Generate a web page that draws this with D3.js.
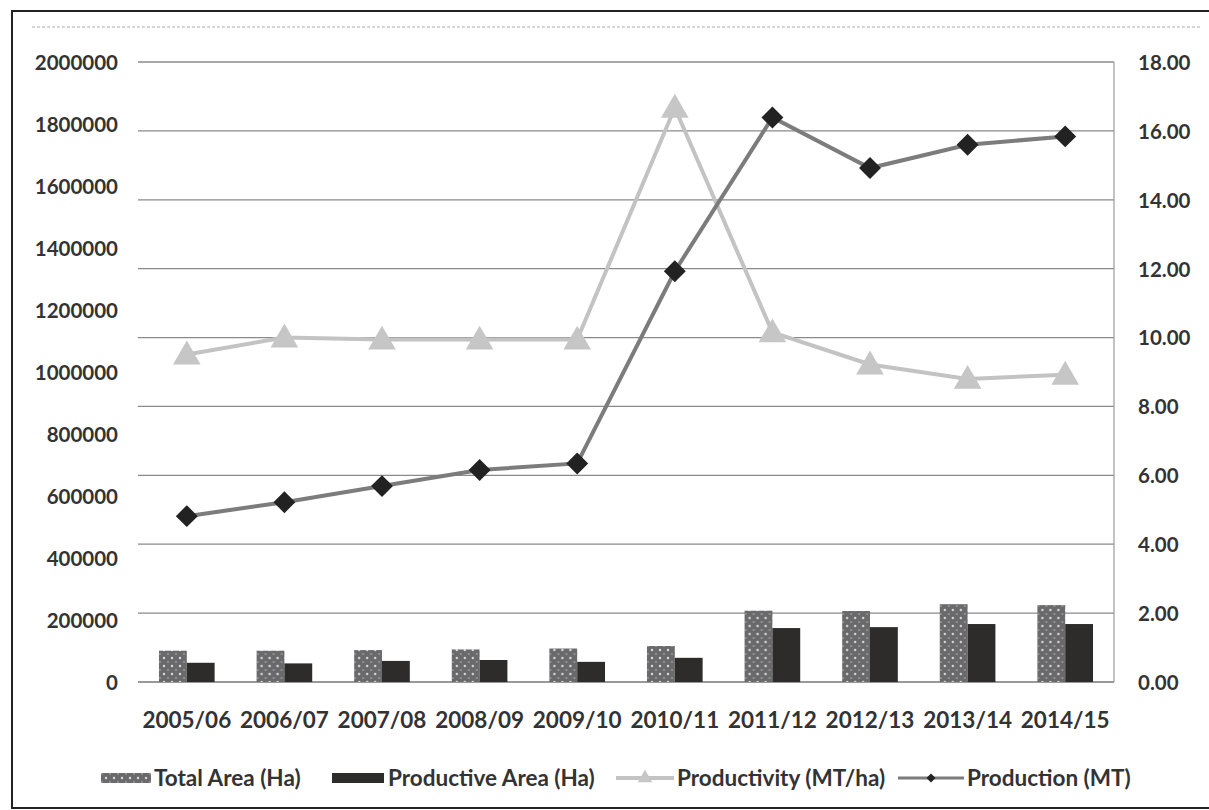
<!DOCTYPE html>
<html>
<head>
<meta charset="utf-8">
<script src="https://cdn.jsdelivr.net/npm/d3@7"></script>
<style>
  html, body { margin: 0; padding: 0; background: #fff; }
  svg { display: block; }
  text { font-family: Lato, "Open Sans", sans-serif; font-weight: 700; fill: #333; }
</style>
</head>
<body>
<svg id="chart" width="1209" height="810"></svg>
<script>
// Seasons on the category axis
const categories = ["2005/06", "2006/07", "2007/08", "2008/09", "2009/10",
                    "2010/11", "2011/12", "2012/13", "2013/14", "2014/15"];
// Bars, left axis (hectares)
const totalArea      = [101000, 101000, 103000, 105000, 108000, 116000, 230000, 229000, 251000, 248000];
const productiveArea = [ 62000,  60000,  68000,  71000,  65000,  78000, 174000, 177000, 187000, 187000];
// Lines
const production     = [535000, 580000, 632000, 684000, 705000, 1325000, 1821000, 1658000, 1733000, 1760000]; // left axis
const productivity   = [9.51, 10.0, 9.94, 9.94, 9.94, 16.67, 10.15, 9.22, 8.80, 8.92];                       // right axis
// Axis ticks
const leftTicks  = [0, 200000, 400000, 600000, 800000, 1000000, 1200000, 1400000, 1600000, 1800000, 2000000];
const rightTicks = [0, 2, 4, 6, 8, 10, 12, 14, 16, 18];
const barSeries  = ["Total Area (Ha)", "Productive Area (Ha)"];
const lineSeries = ["Productivity (MT/ha)", "Production (MT)"];

const svg = d3.select("#chart");
const plot = { left: 138, right: 1114, top: 62, bottom: 682 };

const x = d3.scaleBand().domain(categories).range([plot.left, plot.right]).padding(0);
const xSub = d3.scaleBand().domain(barSeries)
  .range([x.bandwidth() * 0.215, x.bandwidth() * 0.785]).padding(0);
const yL = d3.scaleLinear().domain([0, 2000000]).range([plot.bottom, plot.top]);
const yR = d3.scaleLinear().domain([0, 18]).range([plot.bottom, plot.top]);

// Dotted fill for the total-area bars
const defs = svg.append("defs");
const pat = defs.append("pattern").attr("id", "dots")
  .attr("width", 8).attr("height", 8).attr("patternUnits", "userSpaceOnUse");
pat.append("rect").attr("width", 8).attr("height", 8).attr("fill", "#6a6a6c");
pat.append("circle").attr("cx", 2).attr("cy", 2).attr("r", 1.2).attr("fill", "#d8d8d8");
pat.append("circle").attr("cx", 6).attr("cy", 6).attr("r", 1.0).attr("fill", "#9a9a9a");

// Outer frame
svg.append("rect").attr("x", 12).attr("y", 11).attr("width", 1210).attr("height", 797)
  .attr("fill", "none").attr("stroke", "#222").attr("stroke-width", 2);
svg.append("line").attr("x1", 32).attr("x2", 1200).attr("y1", 27).attr("y2", 27)
  .attr("stroke", "#c8c8c8").attr("stroke-width", 1.5).attr("stroke-dasharray", "3,2");

// Gridlines follow the right-axis ticks
svg.append("g").selectAll("line").data(rightTicks).join("line")
  .attr("x1", plot.left).attr("x2", plot.right)
  .attr("y1", d => yR(d)).attr("y2", d => yR(d))
  .attr("stroke", d => d === 0 ? "#777" : "#8a8a8a").attr("stroke-width", 1.3);
svg.append("line").attr("x1", plot.right).attr("x2", plot.right)
  .attr("y1", plot.top).attr("y2", plot.bottom).attr("stroke", "#9a9a9a").attr("stroke-width", 1.2);

// Left axis
const axL = svg.append("g").attr("transform", `translate(${plot.left - 20},0)`)
  .call(d3.axisLeft(yL).tickValues(leftTicks).tickFormat(d3.format("d")).tickSize(0).tickPadding(0));
axL.select(".domain").remove();
axL.selectAll("text").attr("font-size", 20.5).attr("dy", "0.36em");

// Right axis
const axR = svg.append("g").attr("transform", `translate(${plot.right + 24},0)`)
  .call(d3.axisRight(yR).tickValues(rightTicks).tickFormat(d3.format(".2f")).tickSize(0).tickPadding(0));
axR.select(".domain").remove();
axR.selectAll("text").attr("font-size", 20.5).attr("dy", "0.36em");

// Category axis
const axB = svg.append("g").attr("transform", `translate(0,${plot.bottom + 30})`)
  .call(d3.axisBottom(x).tickSize(0).tickPadding(0));
axB.select(".domain").remove();
axB.selectAll("text").attr("font-size", 22.5).attr("dy", "0.71em");

// Bars
const barData = categories.map((c, i) => ({ c, vals: [totalArea[i], productiveArea[i]] }));
const grp = svg.append("g").selectAll("g").data(barData).join("g")
  .attr("transform", d => `translate(${x(d.c)},0)`);
grp.selectAll("rect").data(d => d.vals.map((v, j) => ({ s: barSeries[j], v }))).join("rect")
  .attr("x", d => xSub(d.s)).attr("width", xSub.bandwidth())
  .attr("y", d => yL(d.v)).attr("height", d => yL(0) - yL(d.v))
  .attr("fill", d => d.s === barSeries[0] ? "url(#dots)" : "#2e2c2b");

const cx = c => x(c) + x.bandwidth() / 2;

// Productivity line (right axis)
svg.append("path").datum(productivity)
  .attr("d", d3.line().x((d, i) => cx(categories[i])).y(d => yR(d)))
  .attr("fill", "none").attr("stroke", "#c3c3c3").attr("stroke-width", 4);
svg.append("g").selectAll("path").data(productivity).join("path")
  .attr("d", d3.symbol(d3.symbolTriangle, 330))
  .attr("transform", (d, i) => `translate(${cx(categories[i])},${yR(d) + 2})`)
  .attr("fill", "#c6c6c6");

// Production line (left axis)
svg.append("path").datum(production)
  .attr("d", d3.line().x((d, i) => cx(categories[i])).y(d => yL(d)))
  .attr("fill", "none").attr("stroke", "#7c7c7c").attr("stroke-width", 4);
svg.append("g").selectAll("path").data(production).join("path")
  .attr("d", d3.symbol(d3.symbolSquare, 240))
  .attr("transform", (d, i) => `translate(${cx(categories[i])},${yL(d)}) rotate(45)`)
  .attr("fill", "#222");

// Legend
const legY = 778;
const legFont = 22.5;
const lg = svg.append("g");
lg.append("rect").attr("x", 101).attr("y", legY - 5).attr("width", 50).attr("height", 10).attr("fill", "url(#dots)");
lg.append("text").attr("x", 154).attr("y", legY).attr("dy", "0.36em").attr("font-size", legFont).text(barSeries[0]);
lg.append("rect").attr("x", 332).attr("y", legY - 5).attr("width", 52).attr("height", 10).attr("fill", "#2e2c2b");
lg.append("text").attr("x", 388).attr("y", legY).attr("dy", "0.36em").attr("font-size", legFont).text(barSeries[1]);
lg.append("line").attr("x1", 616).attr("x2", 674).attr("y1", legY).attr("y2", legY)
  .attr("stroke", "#c3c3c3").attr("stroke-width", 4);
lg.append("path").attr("d", d3.symbol(d3.symbolTriangle, 90))
  .attr("transform", `translate(645,${legY})`).attr("fill", "#c6c6c6");
lg.append("text").attr("x", 677).attr("y", legY).attr("dy", "0.36em").attr("font-size", legFont).text(lineSeries[0]);
lg.append("line").attr("x1", 898).attr("x2", 964).attr("y1", legY).attr("y2", legY)
  .attr("stroke", "#7c7c7c").attr("stroke-width", 3);
lg.append("path").attr("d", d3.symbol(d3.symbolSquare, 40))
  .attr("transform", `translate(931,${legY}) rotate(45)`).attr("fill", "#222");
lg.append("text").attr("x", 967).attr("y", legY).attr("dy", "0.36em").attr("font-size", legFont).text(lineSeries[1]);
</script>
</body>
</html>
